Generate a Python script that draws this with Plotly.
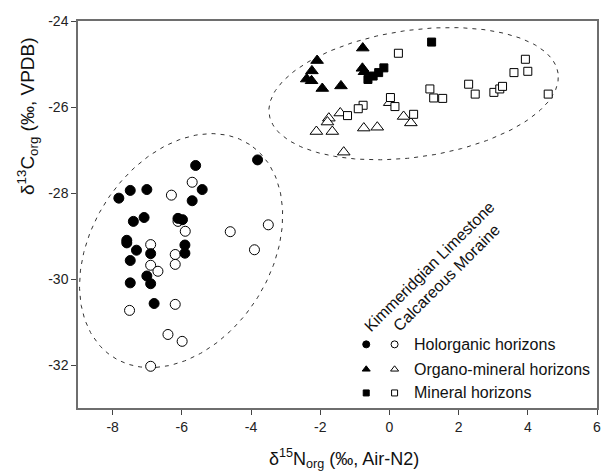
import numpy as np
import plotly.graph_objects as go

# ---------------- data (delta15N, delta13C) ----------------
# Kimmeridgian Limestone (filled symbols)
kim_holo_x = [-3.81, -5.60, -7.82, -7.49, -7.01, -5.41, -5.70, -7.40, -7.09, -6.11, -5.98,
              -7.59, -7.59, -7.31, -6.90, -5.91, -5.91, -7.49, -7.01, -6.90, -7.49, -6.80]
kim_holo_y = [-27.23, -27.36, -28.12, -27.94, -27.92, -27.92, -28.18, -28.66, -28.57, -28.59, -28.62,
              -29.10, -29.16, -29.33, -29.41, -29.21, -29.40, -29.57, -29.93, -30.11, -30.09, -30.57]
kim_orgmin_x = [-0.77, -2.09, -2.24, -2.39, -2.25, -1.94, -1.40, -0.78, -0.72]
kim_orgmin_y = [-24.63, -24.92, -25.16, -25.35, -25.39, -25.57, -25.51, -25.10, -25.18]
kim_min_x = [1.22, -0.16, -0.31, -0.47, -0.62]
kim_min_y = [-24.49, -25.09, -25.20, -25.28, -25.36]

# Calcareous Moraine (open symbols)
cal_holo_x = [-5.70, -6.30, -6.11, -5.90, -4.60, -3.50, -3.90, -6.90, -6.19, -6.19, -6.90,
              -6.69, -6.19, -7.51, -6.40, -5.99, -6.90]
cal_holo_y = [-27.75, -28.05, -28.66, -28.89, -28.90, -28.74, -29.32, -29.20, -29.43, -29.66, -29.68,
              -29.82, -30.59, -30.73, -31.29, -31.45, -32.03]
cal_orgmin_x = [-1.75, -1.79, -1.42, -2.11, -1.65, -0.74, -0.35, 0.01, 0.41, 0.62, -1.32]
cal_orgmin_y = [-26.26, -26.35, -26.14, -26.57, -26.57, -26.49, -26.47, -25.90, -26.22, -26.37, -27.05]
cal_min_x = [0.26, -0.76, -0.90, -1.21, 0.03, 0.16, 0.70, 1.17, 1.28, 1.54, 2.29, 2.48,
             3.02, 3.19, 3.27, 3.60, 4.00, 3.93, 4.59]
cal_min_y = [-24.75, -25.96, -26.04, -26.20, -25.78, -25.99, -26.17, -25.58, -25.79, -25.80, -25.47, -25.70,
             -25.66, -25.58, -25.52, -25.20, -25.17, -24.89, -25.70]

# axes
x_range = [-9, 6]
y_range = [-33, -24]
x_ticks = [-8, -6, -4, -2, 0, 2, 4, 6]
y_ticks = [-24, -26, -28, -30, -32]
x_title = "δ<sup>15</sup>N<sub>org</sub> (‰, Air-N2)"
y_title = "δ<sup>13</sup>C<sub>org</sub> (‰, VPDB)"

# legend
legend_labels = ["Holorganic horizons", "Organo-mineral horizons", "Mineral horizons"]
legend_symbols = ["circle", "triangle-up", "square"]
legend_y = [-31.52, -32.10, -32.65]
legend_filled_x = -0.67
legend_open_x = 0.15
legend_text_x = 0.65

# group labels (rotated)
group_labels = ["Kimmeridgian Limestone", "Calcareous Moraine"]
group_label_x = [1.15, 1.66]
group_label_y = [-29.70, -29.97]

# confidence ellipses: center (data), semi-axes (px), angle (deg, screen)
ell_cx = [-6.02, 0.70]
ell_cy = [-29.34, -25.69]
ell_a = [126.6, 147.0]
ell_b = [90.2, 63.5]
ell_ang = [57.0, 8.0]

# ---------------- figure ----------------
W, H = 606, 471
ML, MR, MT, MB = 78, 5, 21, 63
pw, ph = W - ML - MR, H - MT - MB
sx = pw / (x_range[1] - x_range[0])
sy = ph / (y_range[1] - y_range[0])

fig = go.Figure()

for cx, cy, a, b, ang in zip(ell_cx, ell_cy, ell_a, ell_b, ell_ang):
    t = np.linspace(0, 2 * np.pi, 200)
    th = np.deg2rad(ang)
    dx = a * np.cos(t) * np.cos(th) - b * np.sin(t) * np.sin(th)
    dy = a * np.cos(t) * np.sin(th) + b * np.sin(t) * np.cos(th)
    fig.add_trace(go.Scatter(x=cx + dx / sx, y=cy + dy / sy, mode="lines",
                             line=dict(color="#333333", width=1, dash="4px,5px"),
                             hoverinfo="skip", showlegend=False))

def pts(x, y, symbol, size, filled):
    fig.add_trace(go.Scatter(
        x=x, y=y, mode="markers", showlegend=False,
        marker=dict(symbol=symbol, size=size,
                    color="black" if filled else "white",
                    line=dict(color="black", width=1))))

pts(cal_holo_x, cal_holo_y, "circle", 10, False)
pts(cal_orgmin_x, cal_orgmin_y, "triangle-up", 11, False)
pts(cal_min_x, cal_min_y, "square", 8, False)
pts(kim_holo_x, kim_holo_y, "circle", 10, True)
pts(kim_orgmin_x, kim_orgmin_y, "triangle-up", 11, True)
pts(kim_min_x, kim_min_y, "square", 8, True)

# legend markers
for sym, ly, lab in zip(legend_symbols, legend_y, legend_labels):
    sz = 6 if sym == "square" else 7
    fig.add_trace(go.Scatter(x=[legend_filled_x], y=[ly], mode="markers", showlegend=False,
                             marker=dict(symbol=sym, size=sz, color="black",
                                         line=dict(color="black", width=1))))
    fig.add_trace(go.Scatter(x=[legend_open_x], y=[ly], mode="markers", showlegend=False,
                             marker=dict(symbol=sym, size=sz, color="white",
                                         line=dict(color="black", width=1))))
    fig.add_annotation(x=legend_text_x, y=ly, text=lab, showarrow=False,
                       xanchor="left", yanchor="middle",
                       font=dict(size=16, color="#111111"))

for lab, gx, gy in zip(group_labels, group_label_x, group_label_y):
    fig.add_annotation(x=gx, y=gy, text=lab, showarrow=False, textangle=-45,
                       xanchor="center", yanchor="middle",
                       font=dict(size=16, color="#111111"))

# axis titles
fig.add_annotation(x=-1.31, xref="x", y=-(458 - (H - MB)) / ph, yref="paper",
                   text=x_title, showarrow=False, xanchor="center", yanchor="middle",
                   font=dict(size=18, color="#111111"))
fig.add_annotation(x=(27 - ML) / pw, xref="paper", y=-26.2, yref="y",
                   text=y_title, showarrow=False, textangle=-90,
                   xanchor="center", yanchor="middle",
                   font=dict(size=19, color="#111111"))

axis_common = dict(showgrid=False, zeroline=False, showline=True, linecolor="#6e6e6e",
                   linewidth=1.5, mirror=True, ticks="outside", ticklen=5, tickwidth=1,
                   tickcolor="#444444", tickfont=dict(size=14, color="#222222"))

fig.update_xaxes(range=x_range, tickvals=x_ticks, ticktext=[str(v) for v in x_ticks],
                 **axis_common)
fig.update_yaxes(range=y_range, tickvals=y_ticks, ticktext=[str(v) for v in y_ticks],
                 **axis_common)

fig.update_layout(width=W, height=H, margin=dict(l=ML, r=MR, t=MT, b=MB),
                  paper_bgcolor="white", plot_bgcolor="white",
                  font=dict(family="Liberation Sans, Arial, sans-serif"),
                  showlegend=False)

fig.write_html("out.html")
